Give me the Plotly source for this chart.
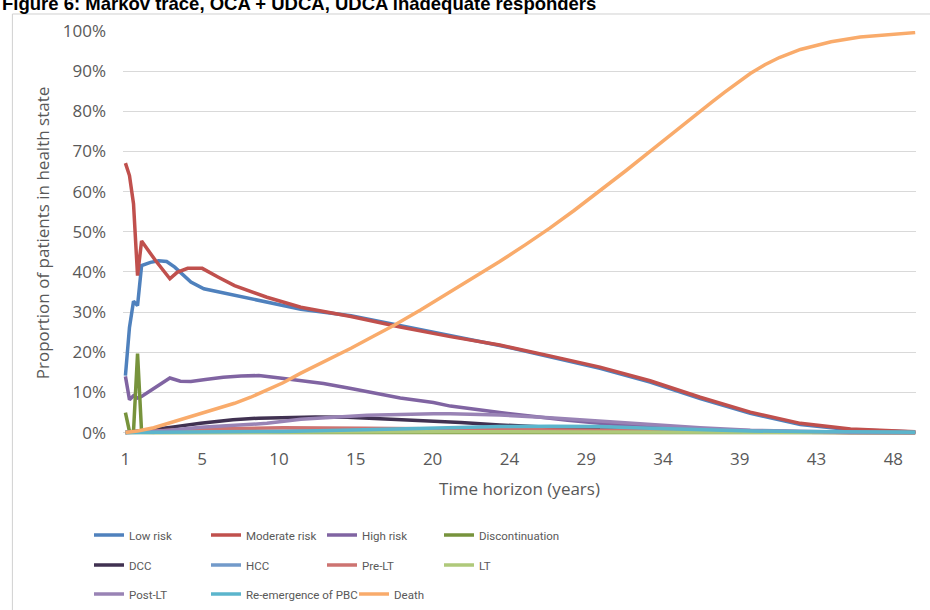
import plotly.graph_objects as go

# ---------------- data (percent of cohort, time in years; 3-month cycles) ----------------
cycle_years = 0.25
tick_every_cycles = 19
tick_labels = ["1", "5", "10", "15", "20", "24", "29", "34", "39", "43", "48"]
y_tick_values = [0, 10, 20, 30, 40, 50, 60, 70, 80, 90, 100]
y_tick_labels = ["0%", "10%", "20%", "30%", "40%", "50%", "60%", "70%", "80%", "90%", "100%"]

low_x = [0.25, 0.5, 0.75, 1.0, 1.25, 1.8, 2.3, 2.8, 3.3, 4.3, 5.1, 6.5, 7.9, 9.4, 11.1, 14.2, 17.25,
         20.35, 23.4, 26.5, 29.6, 32.7, 35.8, 38.9, 42.0, 45.1, 48.2, 49.1]
low_y = [14.2, 26.2, 32.7, 31.6, 41.6, 42.4, 42.8, 42.6, 41.2, 37.5, 35.8, 34.6, 33.3, 32.1, 30.7, 29.1, 26.6,
         24.0, 21.7, 18.9, 16.0, 12.6, 8.5, 4.8, 2.0, 0.7, 0.2, 0.15]

mod_x = [0.25, 0.5, 0.75, 1.0, 1.25, 2.1, 3.0, 3.45, 4.1, 5.0, 6.0, 7.0, 9.0, 11.1, 14.2, 17.25,
         20.35, 23.4, 26.5, 29.6, 32.7, 35.8, 38.9, 42.0, 45.1, 48.2, 49.1]
mod_y = [67.1, 64.0, 57.0, 39.1, 47.7, 42.9, 38.3, 39.9, 40.9, 40.9, 38.7, 36.6, 33.7, 31.2, 28.9, 26.3,
         23.9, 21.8, 19.1, 16.3, 12.9, 8.8, 5.1, 2.3, 0.9, 0.3, 0.2]

high_x = [0.25, 0.5, 0.75, 1.0, 1.25, 3.0, 3.65, 4.3, 5.2, 6.3, 7.4, 8.5, 9.8, 11.1, 12.5, 14.2, 15.2,
          17.25, 19.3, 20.35, 23.4, 26.5, 27.6, 29.6, 32.7, 35.8, 38.9, 42.0, 45.1, 49.1]
high_y = [14.0, 8.2, 9.2, 8.6, 9.0, 13.6, 12.8, 12.7, 13.2, 13.8, 14.1, 14.2, 13.6, 13.0, 12.2, 11.0, 10.2,
          8.6, 7.5, 6.6, 5.0, 3.5, 3.1, 2.3, 1.4, 0.8, 0.4, 0.2, 0.05, 0.02]

disc_x = [0.25, 0.5, 0.75, 1.0, 1.25, 2.0, 49.1]
disc_y = [5.0, 0.3, 0.3, 19.7, 0.1, 0.05, 0.0]

dcc_x = [0.25, 1.0, 2.0, 3.0, 4.9, 6.9, 8.5, 10.0, 12.0, 14.0, 15.2, 17.25, 19.3, 21.0, 23.4, 26.5, 29.6,
         32.7, 35.8, 38.9, 42.0, 49.1]
dcc_y = [0.0, 0.3, 0.8, 1.3, 2.3, 3.2, 3.6, 3.8, 3.9, 3.8, 3.6, 3.3, 2.9, 2.5, 1.9, 1.2, 0.7,
         0.45, 0.3, 0.15, 0.08, 0.02]

hcc_x = [0.25, 5.0, 10.0, 15.0, 20.0, 25.0, 30.0, 35.0, 40.0, 49.1]
hcc_y = [0.0, 0.2, 0.4, 0.5, 0.5, 0.4, 0.3, 0.15, 0.07, 0.01]

prelt_x = [0.25, 1.0, 3.0, 5.0, 7.0, 10.0, 15.0, 20.0, 25.0, 30.0, 35.0, 40.0, 45.0, 49.1]
prelt_y = [0.0, 0.2, 0.6, 0.9, 1.1, 1.2, 1.1, 0.9, 0.7, 0.5, 0.3, 0.15, 0.05, 0.02]

lt_x = [0.25, 5.0, 10.0, 20.0, 30.0, 40.0, 49.1]
lt_y = [0.0, 0.1, 0.15, 0.2, 0.15, 0.05, 0.0]

postlt_x = [0.25, 1.0, 2.0, 3.0, 4.9, 9.0, 11.1, 15.2, 17.25, 19.3, 20.35, 23.4, 26.5, 27.6, 29.6, 32.7,
            35.8, 38.9, 42.0, 45.1, 49.1]
postlt_y = [0.0, 0.1, 0.3, 0.6, 1.3, 2.3, 3.3, 4.3, 4.6, 4.7, 4.7, 4.4, 3.7, 3.4, 2.7, 1.9,
            1.2, 0.6, 0.3, 0.1, 0.02]

reem_x = [0.25, 5.0, 10.0, 15.0, 20.0, 23.4, 26.5, 29.6, 32.7, 35.8, 38.9, 42.0, 45.0, 49.1]
reem_y = [0.0, 0.1, 0.3, 0.7, 1.2, 1.5, 1.6, 1.5, 1.1, 0.7, 0.4, 0.25, 0.15, 0.1]

death_x = [0.25, 1.0, 2.0, 3.0, 4.0, 5.0, 6.0, 7.0, 8.0, 9.0, 10.0, 11.1, 12.5, 14.2, 15.5, 16.9, 18.5,
           20.35, 22.0, 23.4, 25.0, 26.5, 28.0, 29.6, 31.2, 32.7, 34.2, 35.8, 36.5, 37.3, 38.1, 38.9,
           39.8, 40.7, 42.0, 43.9, 45.7, 47.0, 48.2, 49.1]
death_y = [0.0, 0.4, 1.2, 2.4, 3.5, 4.7, 5.9, 7.3, 8.8, 10.5, 12.4, 14.8, 17.5, 21.0, 23.8, 26.8, 30.5,
           35.0, 39.0, 42.6, 46.8, 50.9, 55.3, 60.2, 65.2, 70.0, 74.9, 80.0, 82.2, 84.7, 87.1, 89.4,
           91.6, 93.4, 95.4, 97.3, 98.5, 99.0, 99.35, 99.6]

series_names = ["Low risk", "Moderate risk", "High risk", "Discontinuation", "DCC", "HCC", "Pre-LT",
                "LT", "Post-LT", "Re-emergence of PBC", "Death"]
series_x = [low_x, mod_x, high_x, disc_x, dcc_x, hcc_x, prelt_x, lt_x, postlt_x, reem_x, death_x]
series_y = [low_y, mod_y, high_y, disc_y, dcc_y, hcc_y, prelt_y, lt_y, postlt_y, reem_y, death_y]

# ---------------- styling ----------------
colors = ["#4F81BD", "#C0504D", "#8064A2", "#77933C", "#403151", "#729ACA", "#CD7371",
          "#AFC97A", "#9983B5", "#5BB5CC", "#F9AB6B"]

W, H = 930, 610
ML, MR, MT, MB = 122.6, 14.4, 31, 175.3
TXT = "#595959"
TICK_FONT = dict(family="Open Sans, Liberation Sans, sans-serif", size=17, color=TXT)
LEG_FONT = dict(family="Roboto, Liberation Sans, sans-serif", size=11.5, color=TXT)

# legend item placement (pixels): column origins and row centres
leg_col_px = [89, 206, 322, 439]
leg_row_px = [535, 565, 594]
leg_override_px = {10: 354}

fig = go.Figure()
layout_legends = {}
for i, (name, xs, ys, color) in enumerate(zip(series_names, series_x, series_y, colors)):
    key = "legend" if i == 0 else f"legend{i + 1}"
    fig.add_trace(go.Scatter(x=xs, y=ys, name=name, mode="lines",
                             line=dict(color=color, width=3.5), legend=key,
                             hoverinfo="x+y+name"))
    col, row = i % 4, i // 4
    xpx = leg_override_px.get(i, leg_col_px[col])
    layout_legends[key] = dict(orientation="h", xref="container", yref="container",
                               x=xpx / W, xanchor="left", y=1 - leg_row_px[row] / H,
                               yanchor="middle", font=LEG_FONT, bgcolor="rgba(0,0,0,0)",
                               itemclick=False, itemdoubleclick=False)

tick_vals = [cycle_years * (1 + tick_every_cycles * i) for i in range(len(tick_labels))]

plot_w = W - ML - MR
plot_h = H - MT - MB
title_bottom_px = 16
title_y = 1 + (MT - title_bottom_px) / plot_h

fig.update_layout(
    width=W, height=H,
    margin=dict(l=ML, r=MR, t=MT, b=MB, pad=0),
    paper_bgcolor="white", plot_bgcolor="white",
    showlegend=True,
    xaxis=dict(range=[0.1, 49.15], tickmode="array", tickvals=tick_vals, ticktext=tick_labels,
               showgrid=False, zeroline=False, showline=False, ticks="",
               ticklabelstandoff=12, tickfont=TICK_FONT,
               title=dict(text="Time horizon (years)", font=TICK_FONT, standoff=14)),
    yaxis=dict(range=[-0.6, 100], tickmode="array", tickvals=y_tick_values, ticktext=y_tick_labels,
               showgrid=True, gridcolor="#D9D9D9", gridwidth=1.3, zeroline=False, showline=False,
               ticks="", ticklabelstandoff=16, tickfont=TICK_FONT,
               title=dict(text="Proportion of patients in health state", font=TICK_FONT, standoff=8)),
    shapes=[dict(type="rect", xref="paper", yref="paper",
                 x0=(12 - ML) / plot_w, x1=1.2,
                 y0=-0.6, y1=1 + (MT - 14) / plot_h,
                 line=dict(color="#D0D0D0", width=1), fillcolor="rgba(0,0,0,0)", layer="below")],
    annotations=[dict(text="<b>Figure 6: Markov trace, OCA + UDCA, UDCA inadequate responders</b>",
                      xref="paper", yref="paper", x=(0 - ML) / plot_w, y=title_y,
                      xanchor="left", yanchor="bottom", showarrow=False,
                      font=dict(family="Liberation Sans, Arial, sans-serif", size=18.5, color="#000000"))],
    **layout_legends,
)

fig.write_html("out.html", config={"displayModeBar": False},
               post_script="document.body.style.margin='0px';")
